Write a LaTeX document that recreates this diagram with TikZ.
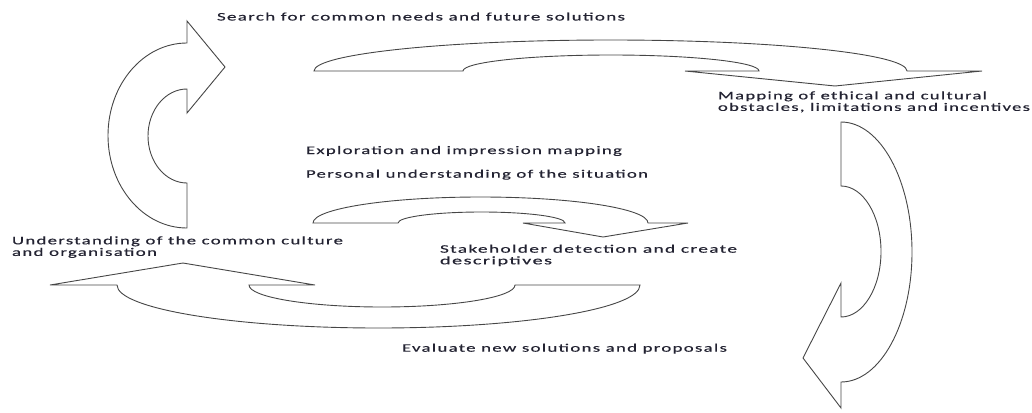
\documentclass[tikz,border=0pt]{standalone}
\usepackage{fontspec}
\setmainfont{Carlito}
\newfontfamily\lblfont[LetterSpace=7,FakeBold=0.4]{Carlito}
\newcommand{\wt}[2]{\resizebox{#1pt}{\height}{#2}}
\newcommand{\twoline}[4]{\vtop{\baselineskip=11.6pt\hbox{\wt{#1}{#2}}\hbox{\wt{#3}{#4}}}}
\definecolor{shapeline}{RGB}{70,70,70}
\definecolor{textcol}{RGB}{35,35,50}
\tikzset{
  blockarrow/.style={draw=shapeline, line width=0.9pt, line join=miter},
  lbl/.style={anchor=base west, inner sep=0pt, outer sep=0pt, text=textcol,
    font=\lblfont\fontsize{11.5}{11.6}\selectfont},
}
\begin{document}
\begin{tikzpicture}[x=1pt,y=-1pt]
\useasboundingbox (0,0) rectangle (1032,412);

% left curved arrow (pointing right at top)
\draw[blockarrow] (187,228)
  arc[start angle=90, end angle=270, x radius=79, y radius=92.5]
  -- (187,21) -- (225,67) -- (187,113) -- (187,89)
  arc[start angle=270, end angle=90, x radius=39, y radius=47]
  -- cycle;

% top curved arrow (pointing down at right)
\draw[blockarrow] (314,71)
  arc[start angle=180, end angle=360, x radius=296.5, y radius=31]
  -- (982,71) -- (835,86) -- (685,71) -- (759,71)
  arc[start angle=360, end angle=180, x radius=148, y radius=16]
  -- cycle;

% right curved arrow (pointing left at bottom)
\draw[blockarrow] (841,122)
  arc[start angle=270, end angle=450, x radius=71, y radius=130]
  -- (841,408) -- (803,358) -- (841,283) -- (841,317)
  arc[start angle=90, end angle=-90, x radius=40, y radius=65.5]
  -- cycle;

% bottom curved arrow (pointing up at left)
\draw[blockarrow] (640,285)
  arc[start angle=0, end angle=180, x radius=261.5, y radius=43]
  -- (50,285) -- (183,263) -- (315,285) -- (249,285)
  arc[start angle=180, end angle=0, x radius=133, y radius=22]
  -- cycle;

% middle small curved arrow
\draw[blockarrow] (313,223)
  arc[start angle=180, end angle=360, x radius=167.5, y radius=26]
  -- (688,223) -- (603,237) -- (523,223) -- (565,223)
  arc[start angle=360, end angle=180, x radius=83.5, y radius=11]
  -- cycle;

% labels
\node[lbl] (search) at (217,20.5) {\wt{408}{Search for common needs and future solutions}};
\node[lbl] (mapping) at (718,99.3) {\twoline{269}{Mapping of ethical and cultural}{312}{obstacles, limitations and incentives}};
\node[lbl] (explore) at (306,154) {\wt{316}{Exploration and impression mapping}};
\node[lbl] (personal) at (306,177.7) {\wt{342}{Personal understanding of the situation}};
\node[lbl] (understand) at (12,244.3) {\twoline{331}{Understanding of the common culture}{145}{and organisation}};
\node[lbl] (stake) at (440,252.7) {\twoline{297}{Stakeholder detection and create}{112}{descriptives}};
\node[lbl] (evaluate) at (402,351.7) {\wt{325}{Evaluate new solutions and proposals}};
\end{tikzpicture}
\end{document}
